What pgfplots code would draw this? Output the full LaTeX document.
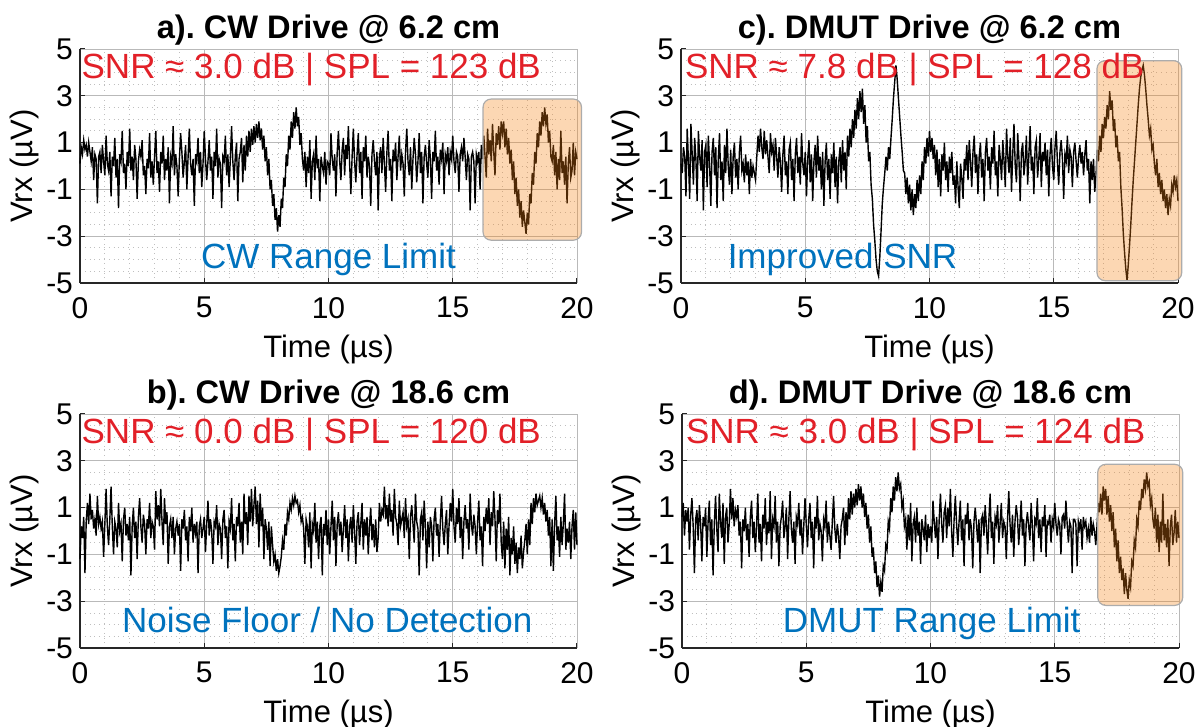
\documentclass[border=0pt]{standalone}
\usepackage{pgfplots}
\pgfplotsset{compat=1.18}
\usepackage{pgfplotstable}
\usepackage{fontspec}
\setmainfont{Liberation Sans}
\frenchspacing

\definecolor{snrred}{RGB}{226,32,40}
\definecolor{noteblue}{RGB}{0,114,189}
\definecolor{boxorange}{RGB}{245,130,20}

% received voltage (uV), one sample every 0.05 us, 0..20 us
% a) CW drive @ 6.2 cm
\pgfplotstableread[header=false,row sep=\\]{
0.1\\0.8\\0.5\\1.1\\0.7\\0.9\\0.4\\1.0\\0.6\\0.2\\0.8\\-0.6\\0.5\\0.3\\-1.6\\0.4\\0.6\\-0.3\\0.9\\0.2\\
-0.4\\1.3\\0.1\\-0.2\\0.6\\-1.3\\0.4\\0.0\\1.2\\-0.5\\0.3\\-1.8\\0.5\\0.2\\1.5\\-0.3\\0.1\\-1.0\\0.6\\0.0\\
1.6\\-0.2\\0.4\\-0.6\\0.9\\0.3\\-1.4\\0.2\\0.7\\0.4\\1.1\\-0.4\\0.0\\-1.2\\0.3\\-0.1\\1.4\\-0.5\\0.2\\-0.8\\
0.4\\1.5\\-0.3\\0.2\\-1.1\\0.6\\0.1\\1.3\\-0.6\\0.3\\-0.2\\0.8\\-1.6\\0.4\\0.1\\1.7\\-0.4\\0.5\\0.0\\-1.3\\
0.3\\1.4\\0.6\\-0.5\\0.2\\0.9\\-1.0\\0.4\\1.6\\0.1\\-0.4\\0.3\\-1.7\\0.5\\0.2\\1.2\\-0.3\\0.6\\-0.9\\0.1\\
1.5\\0.3\\-0.6\\0.2\\1.1\\-0.2\\0.4\\-1.4\\0.6\\0.0\\1.6\\-0.5\\0.3\\0.1\\-1.8\\0.4\\0.2\\1.3\\-0.4\\0.5\\
-0.9\\0.3\\1.7\\0.2\\-0.6\\0.4\\1.0\\-1.5\\0.3\\0.6\\1.2\\-0.7\\0.9\\-0.2\\1.3\\0.4\\1.5\\0.6\\1.6\\0.9\\
1.7\\1.0\\1.8\\1.2\\1.9\\1.1\\1.6\\0.7\\1.3\\0.2\\0.8\\-0.4\\0.3\\-1.0\\-0.6\\-1.7\\-1.2\\-2.3\\-1.8\\-2.8\\
-2.1\\-2.6\\-1.4\\-1.8\\-0.5\\-0.9\\0.5\\0.0\\1.3\\0.7\\1.9\\1.2\\2.3\\1.6\\2.5\\1.7\\2.1\\0.9\\1.4\\0.3\\
-0.2\\0.6\\-0.9\\0.4\\-0.3\\1.1\\-1.4\\0.2\\0.5\\-0.6\\1.3\\-0.1\\0.3\\-1.5\\0.4\\0.0\\-0.3\\0.6\\-0.8\\0.2\\
0.1\\-0.4\\1.4\\0.3\\-0.2\\0.5\\-1.3\\0.6\\1.5\\0.2\\-0.6\\0.7\\1.2\\-0.4\\0.9\\0.3\\1.7\\0.1\\-1.2\\0.4\\
1.6\\0.2\\-0.7\\0.5\\1.4\\-0.3\\0.6\\-1.4\\0.8\\0.2\\1.3\\-0.5\\0.4\\0.0\\-1.7\\0.5\\1.1\\0.2\\-0.4\\0.6\\
-1.9\\0.4\\0.8\\-0.3\\1.2\\0.1\\-1.1\\0.6\\1.5\\-0.2\\0.3\\-1.5\\0.7\\0.2\\1.0\\-0.6\\0.4\\1.3\\-0.2\\0.5\\
0.1\\-1.3\\0.6\\1.6\\0.2\\-0.4\\0.8\\-1.0\\0.3\\1.2\\0.5\\-0.7\\0.2\\1.4\\-0.3\\0.6\\-1.6\\0.4\\0.9\\0.1\\
-0.5\\1.1\\0.3\\-1.4\\0.6\\0.2\\1.5\\-0.2\\0.4\\-0.8\\0.7\\0.3\\1.0\\-1.2\\0.5\\0.2\\0.8\\-0.4\\0.6\\0.3\\
1.3\\0.2\\-0.3\\0.6\\0.4\\-1.1\\0.5\\0.8\\0.2\\1.2\\0.4\\-0.6\\0.5\\0.3\\-1.9\\0.4\\0.6\\0.2\\-1.6\\0.5\\
0.2\\0.6\\-1.0\\0.9\\0.3\\1.3\\0.4\\-0.5\\1.6\\0.5\\1.1\\0.2\\1.8\\0.6\\-0.4\\1.4\\0.9\\1.7\\0.7\\1.9\\
1.4\\1.9\\0.8\\1.6\\0.5\\1.2\\0.1\\0.7\\-0.6\\0.2\\-1.2\\-0.5\\-1.7\\-1.0\\-2.2\\-1.5\\-2.6\\-1.9\\-2.4\\-2.9\\
-2.0\\-2.5\\-1.2\\-1.6\\-0.3\\-0.8\\0.6\\0.1\\1.4\\0.8\\1.9\\1.3\\2.3\\1.7\\2.5\\1.8\\2.2\\1.0\\1.5\\0.4\\
0.2\\0.9\\-0.4\\0.6\\-1.0\\0.3\\-0.6\\1.5\\-0.3\\0.2\\-0.8\\0.4\\-1.6\\0.1\\0.8\\-0.5\\-0.2\\1.0\\-0.4\\0.6\\
0.3\\
}\cwnear

% b) CW drive @ 18.6 cm
\pgfplotstableread[header=false,row sep=\\]{
-1.2\\0.2\\-0.3\\0.6\\-1.8\\0.4\\1.2\\0.3\\1.6\\0.5\\0.9\\0.1\\0.5\\-0.2\\1.5\\0.3\\0.6\\0.1\\0.4\\-1.1\\
0.3\\1.8\\0.2\\-0.6\\0.5\\1.9\\0.2\\-1.0\\0.4\\0.1\\-0.7\\1.2\\0.0\\0.3\\-1.3\\0.5\\1.0\\-0.2\\0.3\\-0.4\\
0.6\\-1.9\\0.2\\1.0\\-0.3\\0.4\\-1.2\\0.6\\1.4\\0.2\\-0.5\\0.7\\0.3\\-1.0\\0.5\\0.1\\1.2\\-0.3\\0.4\\0.2\\
-0.8\\1.7\\0.5\\1.1\\0.2\\1.8\\0.4\\-0.6\\1.4\\0.3\\0.8\\-1.4\\0.2\\0.5\\-0.3\\0.6\\-1.0\\0.1\\0.4\\-0.2\\
0.3\\-1.7\\0.5\\0.1\\0.9\\-0.4\\0.2\\-1.3\\0.6\\0.0\\1.0\\-0.5\\0.3\\-0.1\\0.4\\-1.8\\0.2\\0.5\\-0.3\\0.1\\
0.6\\-0.9\\0.3\\1.3\\-0.2\\0.5\\0.0\\-1.4\\0.4\\0.2\\1.1\\-0.6\\0.3\\0.1\\-1.2\\0.5\\0.9\\-0.3\\0.2\\-1.6\\
0.4\\0.1\\1.4\\-0.4\\0.3\\-1.3\\0.6\\0.2\\1.2\\-0.5\\0.4\\-1.0\\1.6\\0.3\\0.8\\-0.6\\1.5\\0.4\\1.8\\0.2\\
1.1\\1.9\\0.3\\1.3\\-0.7\\1.6\\0.2\\1.0\\-1.2\\0.5\\0.1\\-0.8\\0.4\\-1.5\\0.2\\-0.6\\-1.3\\-1.0\\-1.7\\-1.2\\
-1.8\\-1.5\\-1.1\\-0.4\\-0.8\\0.3\\-0.2\\0.8\\0.5\\1.2\\0.9\\1.4\\1.1\\1.5\\1.2\\1.3\\0.8\\1.1\\0.4\\0.6\\
0.1\\-1.4\\0.5\\0.2\\-0.7\\0.8\\-1.6\\0.3\\0.0\\1.2\\-0.5\\0.4\\-1.2\\0.2\\0.6\\-1.9\\0.3\\-0.2\\0.9\\-0.6\\
0.5\\-1.0\\0.2\\1.3\\-0.4\\0.6\\-1.5\\0.3\\0.8\\-0.2\\0.4\\-0.9\\0.1\\1.1\\-0.3\\0.5\\-1.3\\0.2\\0.6\\-0.5\\
1.1\\0.0\\-1.4\\0.4\\0.8\\-0.6\\0.3\\1.2\\-0.8\\0.5\\-0.2\\0.6\\-1.0\\0.2\\1.0\\-0.4\\0.3\\-0.7\\0.5\\-0.9\\
-0.3\\1.2\\0.4\\0.9\\0.7\\1.9\\0.5\\1.1\\0.2\\1.6\\0.4\\0.9\\-0.2\\1.8\\0.6\\0.3\\-0.6\\1.3\\0.2\\0.5\\
0.8\\-0.3\\1.4\\0.2\\0.5\\-1.2\\0.6\\1.1\\0.3\\-0.5\\1.6\\0.4\\0.1\\-1.9\\0.5\\0.8\\-0.4\\1.3\\0.2\\-1.6\\
0.4\\-0.7\\0.6\\0.2\\-1.3\\0.5\\1.0\\-0.2\\0.3\\-1.1\\0.4\\1.5\\0.1\\-0.6\\0.3\\0.9\\-1.0\\0.2\\1.2\\0.4\\
1.8\\0.2\\-0.5\\1.0\\0.3\\1.4\\-0.3\\0.6\\-1.2\\0.4\\1.1\\0.1\\0.5\\-0.8\\1.6\\0.3\\-0.2\\0.7\\0.2\\-1.0\\
0.4\\1.3\\-0.4\\0.2\\-1.5\\0.6\\0.0\\1.0\\0.3\\1.4\\-0.6\\0.8\\0.2\\1.7\\0.5\\-1.3\\0.9\\0.3\\1.6\\-0.5\\
-1.2\\0.4\\-1.6\\0.1\\-0.8\\0.6\\-1.9\\-0.3\\-1.0\\0.2\\-1.4\\-0.5\\-1.8\\-0.7\\-1.2\\-0.2\\-1.6\\-0.9\\-0.4\\0.3\\
-1.0\\0.5\\-0.6\\1.2\\0.3\\1.4\\0.8\\1.6\\1.1\\1.3\\1.5\\1.0\\1.4\\0.7\\1.2\\0.4\\0.9\\-0.2\\0.6\\-1.5\\
0.5\\-1.7\\0.3\\1.5\\-0.4\\0.2\\-1.1\\0.6\\-0.6\\0.3\\1.6\\-0.8\\0.1\\-0.5\\0.4\\-1.2\\0.2\\0.9\\-0.8\\0.8\\
-0.6\\
}\cwfar

% c) DMUT drive @ 6.2 cm
\pgfplotstableread[header=false,row sep=\\]{
0.1\\-0.3\\0.8\\0.4\\-1.3\\1.6\\0.2\\-1.4\\1.8\\0.5\\-0.8\\1.2\\0.3\\-1.5\\1.5\\0.4\\-0.2\\1.1\\-1.9\\0.6\\
0.9\\-0.9\\1.3\\0.1\\-1.7\\0.6\\1.2\\-0.4\\0.8\\-1.8\\0.3\\1.4\\-0.6\\0.2\\-1.5\\0.9\\-0.3\\1.6\\0.0\\-0.8\\
0.7\\-1.2\\0.4\\1.0\\-0.5\\0.3\\-1.0\\0.6\\1.3\\-0.2\\0.1\\-0.7\\0.5\\-0.4\\0.2\\-1.2\\0.3\\-0.5\\0.0\\-0.3\\
-0.6\\0.4\\1.3\\0.6\\1.6\\0.8\\0.3\\1.5\\0.5\\1.1\\0.4\\-0.3\\1.4\\0.6\\0.9\\-0.2\\1.2\\0.4\\-0.5\\0.8\\
0.2\\-1.1\\0.5\\1.3\\-0.4\\0.2\\-1.2\\0.7\\1.0\\-0.6\\0.3\\-1.5\\0.5\\1.2\\-0.3\\0.4\\-0.8\\1.4\\0.1\\-0.4\\
0.6\\-1.3\\0.3\\1.1\\-0.7\\0.5\\-1.5\\0.2\\0.9\\-0.5\\1.3\\-0.2\\0.4\\-1.0\\0.6\\-1.7\\0.2\\1.0\\-0.6\\0.3\\
-1.4\\0.5\\-0.3\\1.0\\-0.9\\0.4\\-1.6\\0.2\\0.8\\-0.7\\1.1\\-0.2\\0.6\\-1.0\\1.3\\0.4\\1.6\\0.8\\2.0\\1.2\\
2.4\\1.6\\2.9\\2.0\\3.2\\2.3\\3.3\\1.8\\2.6\\1.0\\1.7\\0.2\\0.6\\-0.8\\-1.4\\-2.5\\-3.2\\-4.0\\-4.5\\-4.7\\
-3.9\\-2.8\\-1.6\\-0.9\\-0.3\\0.4\\-0.2\\0.8\\0.3\\1.2\\2.0\\2.9\\3.6\\4.3\\3.7\\2.9\\2.1\\1.3\\0.6\\-0.2\\
-0.3\\-1.2\\-0.5\\-1.6\\-0.8\\-1.9\\-1.0\\-2.1\\-1.2\\-1.8\\-0.6\\-1.5\\-0.4\\-1.2\\0.2\\-0.6\\0.8\\0.1\\1.2\\0.4\\
1.5\\0.6\\1.2\\0.3\\0.9\\-0.4\\0.7\\-0.9\\0.3\\-1.3\\0.5\\-0.2\\1.0\\-0.6\\0.2\\-1.1\\0.4\\-0.3\\0.6\\-0.8\\
-0.4\\-1.6\\0.2\\-0.9\\-1.8\\0.1\\-0.5\\-1.4\\0.3\\-0.2\\0.9\\-0.6\\1.1\\0.2\\-0.9\\0.6\\1.3\\-0.3\\0.5\\-1.2\\
0.4\\1.0\\-0.5\\0.3\\-1.5\\0.6\\1.2\\-0.2\\0.4\\-1.0\\0.8\\0.1\\1.5\\-0.4\\0.2\\-1.3\\0.9\\0.3\\-0.6\\1.1\\
0.2\\-0.9\\1.6\\0.4\\-0.3\\1.2\\-1.1\\0.5\\1.8\\0.0\\-0.7\\1.4\\0.3\\-1.5\\0.6\\1.0\\-0.4\\0.2\\1.3\\-0.8\\
0.5\\1.7\\-0.2\\0.4\\-1.2\\0.8\\1.1\\-0.5\\0.3\\1.4\\-0.9\\0.6\\0.2\\1.0\\-0.4\\0.7\\-1.3\\0.5\\1.2\\0.0\\
-0.6\\0.8\\1.5\\0.1\\-0.8\\0.6\\1.1\\0.3\\-1.4\\0.5\\0.2\\1.3\\-0.3\\0.7\\0.4\\-0.9\\0.6\\1.0\\0.2\\-0.5\\
0.4\\0.9\\0.1\\0.6\\-0.4\\0.5\\1.1\\-0.2\\0.3\\-1.6\\0.2\\-0.6\\0.3\\-1.1\\-0.4\\0.7\\0.2\\1.3\\0.6\\1.8\\
1.2\\2.1\\1.6\\2.6\\2.0\\3.2\\2.4\\2.8\\1.5\\2.0\\0.8\\1.3\\0.2\\0.6\\-0.9\\-1.8\\-2.9\\-3.7\\-4.4\\-4.9\\
-4.2\\-3.4\\-2.5\\-1.5\\-0.6\\0.2\\1.0\\1.8\\2.6\\3.3\\3.8\\4.1\\4.3\\3.9\\3.3\\2.6\\2.0\\1.3\\1.6\\0.7\\
0.9\\0.1\\-0.4\\0.3\\-0.9\\-0.3\\-1.2\\-0.6\\-1.5\\-1.0\\-1.8\\-1.2\\-2.1\\-1.4\\-1.7\\-0.8\\-1.1\\-0.4\\-0.9\\-0.6\\
-1.5\\
}\dmutnear

% d) DMUT drive @ 18.6 cm
\pgfplotstableread[header=false,row sep=\\]{
0.6\\1.2\\-0.2\\0.9\\0.4\\1.0\\-0.8\\0.7\\1.4\\0.2\\-1.8\\0.5\\0.9\\-0.4\\1.1\\0.3\\-1.3\\0.6\\0.2\\1.0\\
-1.1\\0.4\\1.3\\-0.6\\0.5\\-1.9\\0.3\\1.5\\0.1\\-0.9\\1.6\\0.4\\-0.3\\1.2\\-1.4\\0.6\\1.0\\-0.5\\0.3\\1.8\\
0.5\\1.4\\0.2\\0.9\\0.6\\1.1\\-0.2\\0.4\\-1.6\\0.5\\0.0\\1.0\\-0.4\\0.3\\-1.1\\0.6\\1.3\\-0.3\\0.4\\-0.9\\
0.2\\1.6\\-0.5\\0.3\\-1.3\\0.7\\0.1\\1.4\\-0.6\\0.4\\-0.1\\1.7\\-1.2\\0.5\\0.2\\1.5\\-0.5\\0.4\\-1.5\\0.2\\
0.6\\1.3\\-0.3\\0.2\\1.0\\-1.2\\0.5\\1.7\\0.1\\-0.5\\0.4\\-1.4\\0.6\\0.3\\1.2\\-0.2\\0.5\\-1.0\\0.2\\1.4\\
0.3\\-0.7\\0.5\\1.2\\-0.3\\0.4\\-1.6\\0.6\\0.1\\1.5\\-0.4\\0.3\\0.0\\-1.3\\0.5\\0.2\\1.3\\-0.5\\0.4\\-0.2\\
-0.8\\0.4\\1.5\\0.1\\-0.5\\0.3\\-0.2\\-1.2\\0.2\\0.5\\1.0\\-0.6\\0.8\\-0.2\\1.4\\0.5\\1.7\\0.7\\1.6\\1.0\\
1.8\\1.1\\2.0\\1.3\\1.9\\1.0\\1.6\\0.6\\1.2\\0.1\\0.7\\-0.5\\0.2\\-1.1\\-0.7\\-1.8\\-1.3\\-2.4\\-1.9\\-2.8\\
-2.2\\-2.6\\-1.5\\-1.7\\-0.6\\-0.8\\0.4\\0.1\\1.4\\0.8\\1.9\\1.3\\2.3\\1.7\\2.5\\1.8\\2.0\\1.0\\1.3\\0.2\\
0.5\\-0.8\\0.7\\-0.4\\1.2\\-1.3\\0.3\\0.6\\-0.5\\1.0\\-0.2\\0.4\\-1.4\\0.5\\0.1\\-0.4\\0.7\\-0.9\\0.3\\-0.3\\
0.2\\-0.5\\1.3\\0.4\\-0.3\\0.6\\-1.2\\0.5\\1.6\\0.3\\-0.5\\0.8\\1.1\\-0.3\\1.0\\0.2\\1.8\\0.0\\-1.1\\0.5\\
1.5\\0.3\\-0.6\\0.4\\1.3\\-0.4\\0.5\\-1.5\\0.7\\0.3\\1.2\\-0.4\\0.5\\0.1\\-1.6\\0.4\\1.0\\0.3\\-0.5\\0.5\\
-1.8\\0.5\\0.7\\-0.2\\1.1\\0.2\\-1.0\\0.5\\1.6\\-0.3\\0.4\\-1.4\\0.6\\0.3\\1.1\\-0.5\\0.3\\1.2\\-0.3\\0.4\\
0.2\\-1.2\\0.5\\1.7\\0.3\\-0.5\\0.7\\-1.1\\0.4\\1.1\\0.6\\-0.6\\0.3\\1.3\\-0.2\\0.5\\-1.5\\0.3\\0.8\\0.2\\
-0.4\\1.2\\0.2\\-1.3\\0.5\\0.3\\1.4\\-0.3\\0.5\\-0.9\\0.6\\0.2\\1.1\\-1.1\\0.4\\0.3\\0.7\\-0.5\\0.5\\0.2\\
1.2\\0.3\\-0.2\\0.5\\0.3\\-1.0\\0.6\\0.7\\0.1\\1.3\\0.3\\-0.5\\0.4\\0.2\\-1.8\\0.5\\0.5\\0.3\\-1.5\\0.4\\
0.1\\0.5\\-0.8\\0.6\\0.2\\0.4\\-0.3\\0.1\\-0.5\\0.6\\-0.2\\0.3\\0.0\\-0.6\\0.2\\1.2\\0.8\\1.6\\0.7\\1.9\\
1.3\\1.8\\0.7\\1.5\\0.4\\1.1\\0.0\\0.8\\-0.7\\0.1\\-1.3\\-0.4\\-1.8\\-1.1\\-2.1\\-1.6\\-2.7\\-1.8\\-2.5\\-2.9\\
-2.1\\-2.4\\-1.3\\-1.5\\-0.4\\-0.7\\0.5\\0.2\\1.3\\0.9\\1.8\\1.4\\2.2\\1.8\\2.5\\1.9\\2.1\\1.1\\1.4\\0.5\\
0.1\\1.0\\-0.5\\0.7\\-0.9\\0.4\\-0.5\\1.6\\-0.4\\0.3\\-0.7\\0.5\\-1.5\\0.2\\0.7\\-0.6\\-0.1\\0.9\\-0.5\\0.4\\
-0.3\\
}\dmutfar

\pgfplotsset{
  panel/.style={
    scale only axis, width=248.5pt, height=117pt,
    anchor=south west,
    xmin=0, xmax=20, ymin=-5, ymax=5,
    xtick={0,5,10,15,20}, ytick={-5,-3,-1,1,3,5},
    minor x tick num=4, minor y tick num=3,
    grid=both,
    major grid style={gray!55, line width=0.4pt},
    minor grid style={gray!50, dotted, line width=0.4pt},
    axis x line*=bottom, axis y line*=left,
    axis line style={black!85, line width=0.6pt, -},
    tick align=inside, major tick length=2.5pt, minor tick length=0pt,
    tick style={black!85, line width=0.5pt},
    /pgf/number format/assume math mode=true,
    ticklabel style={font=\fontsize{15}{15}\selectfont},
    xticklabel style={yshift=-3.5pt},
    label style={font=\fontsize{15.5}{16}\selectfont},
    xlabel style={yshift=-1.5pt},
    ylabel shift=-3pt,
    title style={font=\bfseries\fontsize{16.3}{17}\selectfont, yshift=-7.5pt},
    xlabel={Time (µs)}, ylabel={Vrx (µV)},
    clip=false,
  },
  trace/.style={black, line width=0.7pt},
}
\tikzset{
  echo box/.style={rounded corners=4pt, draw=gray!65, line width=0.6pt,
    fill=boxorange, fill opacity=0.32},
  snr/.style={anchor=base west, inner sep=0pt, text=snrred,
    font=\fontsize{17.5}{18}\selectfont},
  note/.style={anchor=base, inner sep=0pt, text=noteblue,
    font=\fontsize{17.5}{18}\selectfont},
}

\begin{document}
\begin{tikzpicture}
% a)
\begin{axis}[panel, at={(40pt,-141.5pt)}, title={a). CW Drive @ 6.2 cm}]
\addplot[trace] table[x expr=\coordindex*0.05, y index=0]{\cwnear};
\draw[echo box] (axis cs:16.22,-3.17) rectangle (axis cs:20.18,2.86);
\node[snr] at (axis cs:0.05,3.72) {SNR ≈ 3.0 dB | SPL = 123 dB};
\node[note] at (axis cs:10,-4.36) {CW Range Limit};
\end{axis}
% c)
\begin{axis}[panel, at={(340.5pt,-141.5pt)}, title={c). DMUT Drive @ 6.2 cm}]
\addplot[trace] table[x expr=\coordindex*0.05, y index=0]{\dmutnear};
\draw[echo box] (axis cs:16.74,-4.9) rectangle (axis cs:20.15,4.5);
\node[snr] at (axis cs:0.15,3.72) {SNR ≈ 7.8 dB | SPL = 128 dB};
\node[note] at (axis cs:6.5,-4.36) {Improved SNR};
\end{axis}
% b)
\begin{axis}[panel, at={(40pt,-324pt)}, title={b). CW Drive @ 18.6 cm}]
\addplot[trace] table[x expr=\coordindex*0.05, y index=0]{\cwfar};
\node[snr] at (axis cs:0.05,3.75) {SNR ≈ 0.0 dB | SPL = 120 dB};
\node[note] at (axis cs:9.95,-4.34) {Noise Floor / No Detection};
\end{axis}
% d)
\begin{axis}[panel, at={(341pt,-324pt)}, title={d). DMUT Drive @ 18.6 cm}]
\addplot[trace] table[x expr=\coordindex*0.05, y index=0]{\dmutfar};
\draw[echo box] (axis cs:16.73,-3.18) rectangle (axis cs:20.15,2.85);
\node[snr] at (axis cs:0.15,3.75) {SNR ≈ 3.0 dB | SPL = 124 dB};
\node[note] at (axis cs:10.05,-4.34) {DMUT Range Limit};
\end{axis}
\pgfresetboundingbox
\path[use as bounding box] (0,0) rectangle (598pt,-363.5pt);
\end{tikzpicture}
\end{document}
